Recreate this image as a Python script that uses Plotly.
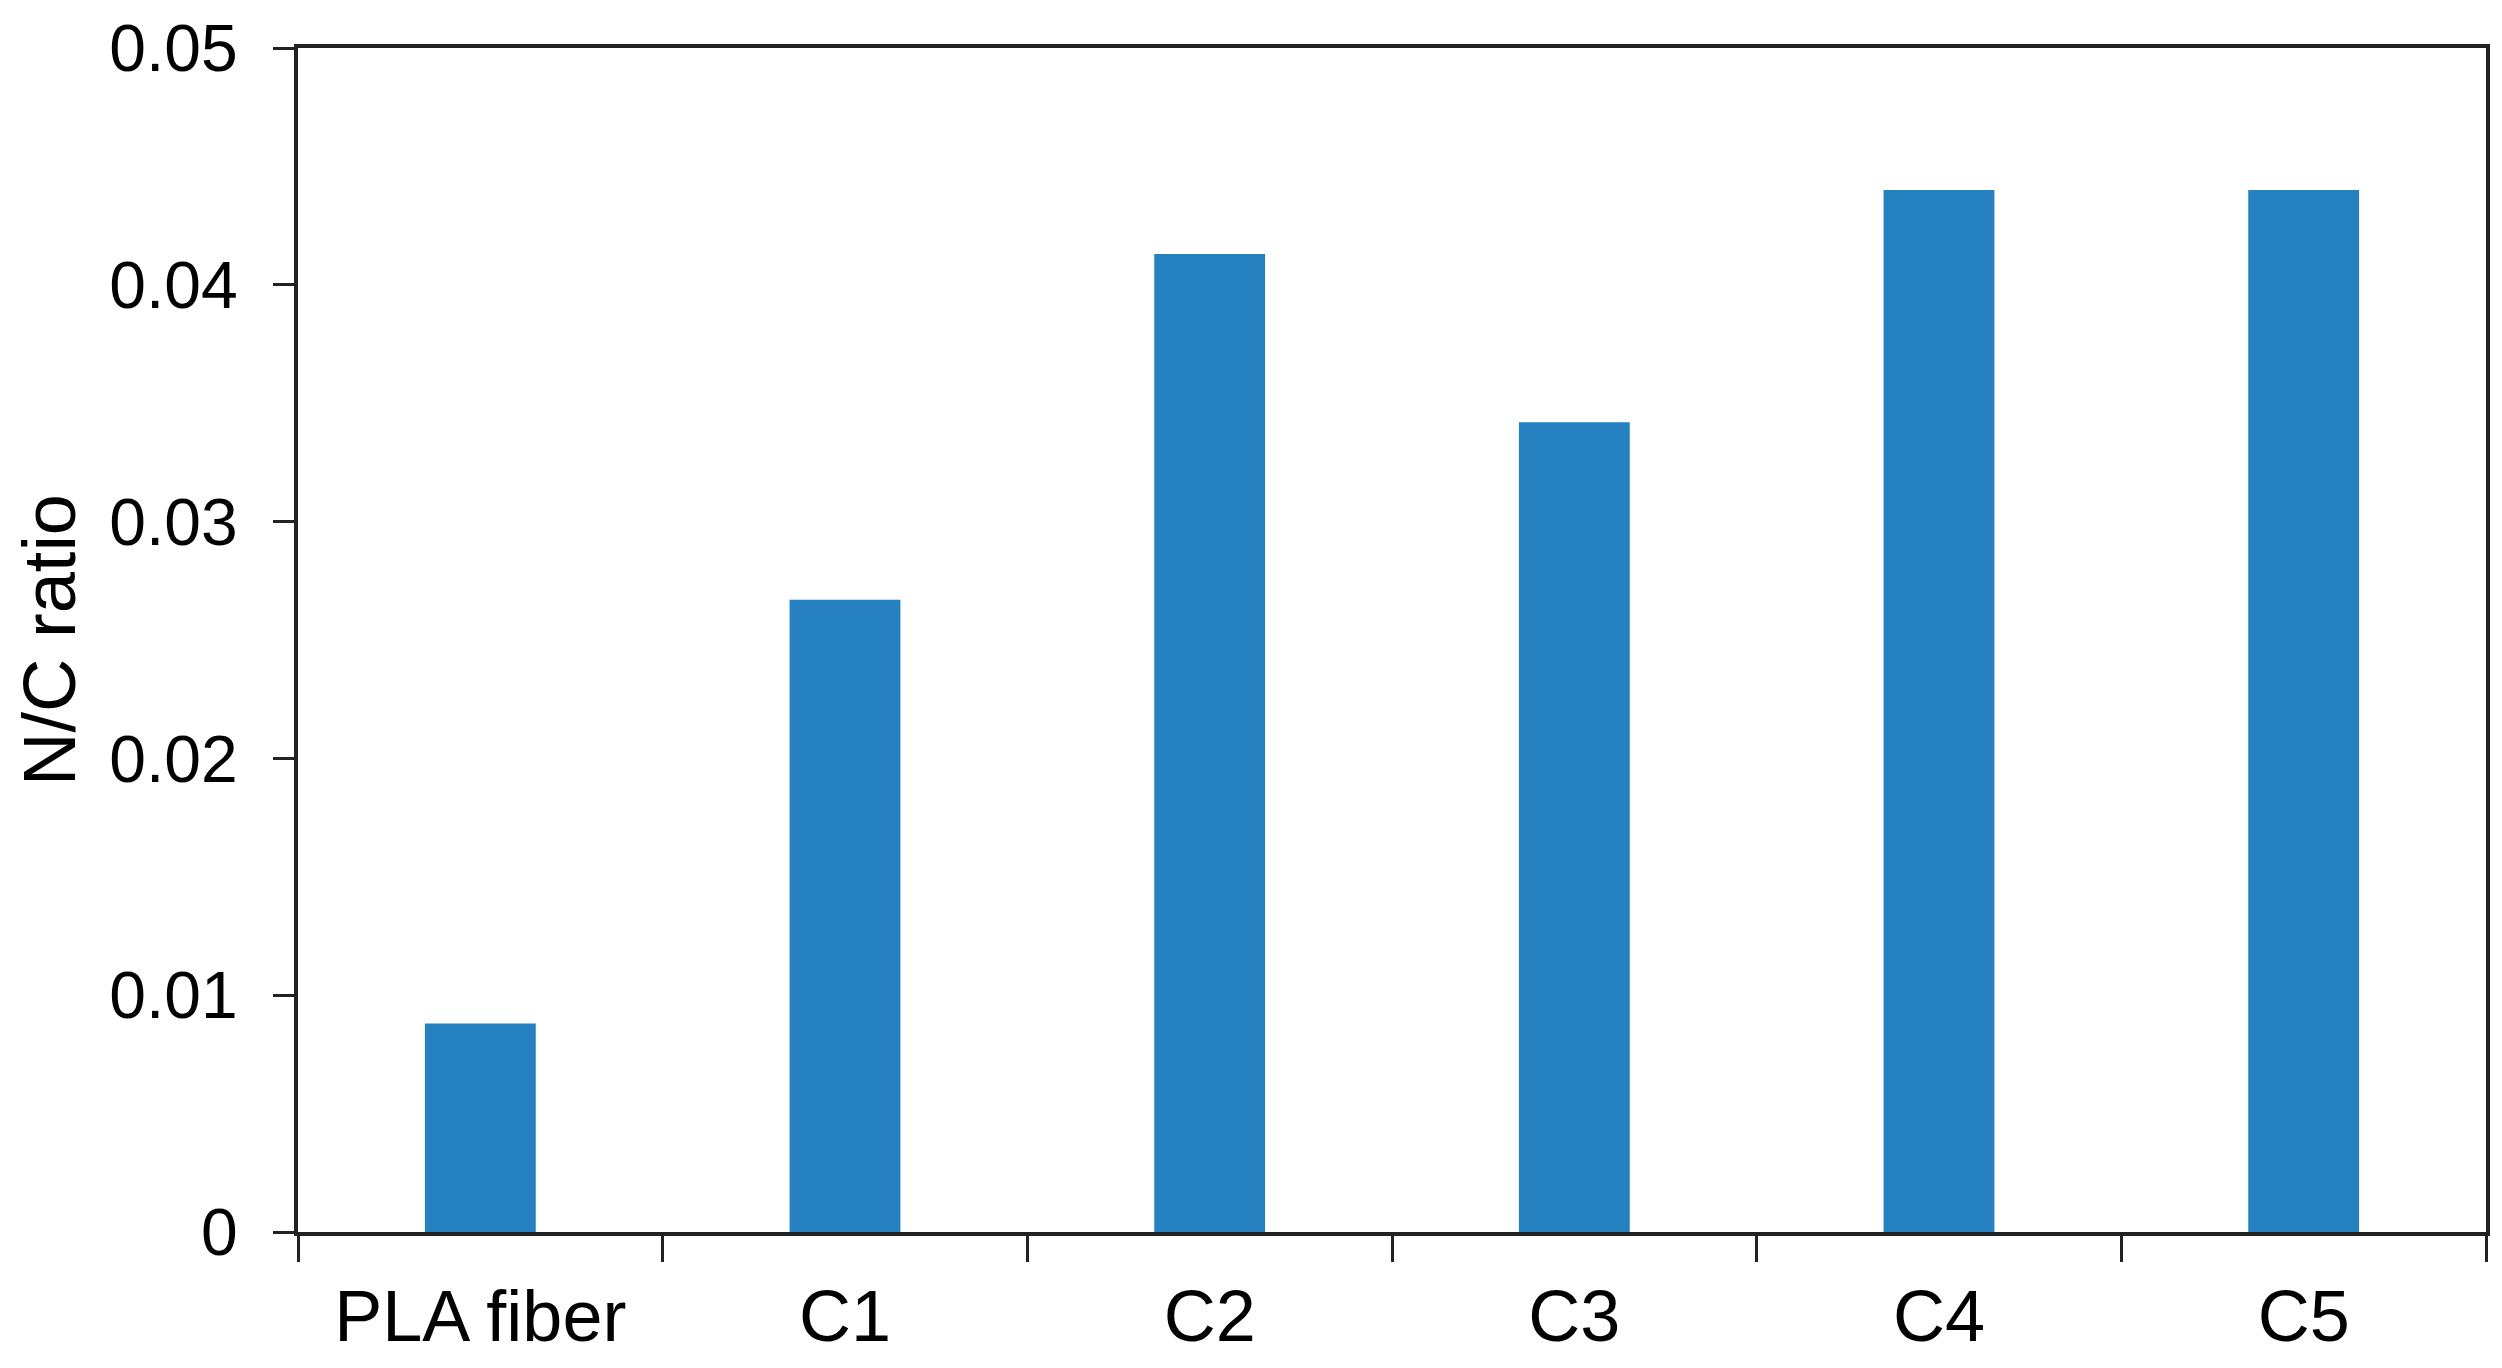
import plotly.graph_objects as go

categories = ["PLA fiber", "C1", "C2", "C3", "C4", "C5"]
nc_ratio = [0.0088, 0.0267, 0.0413, 0.0342, 0.0440, 0.0440]
y_tickvals = [0, 0.01, 0.02, 0.03, 0.04, 0.05]
y_ticktext = ["0", "0.01", "0.02", "0.03", "0.04", "0.05"]

FONT = "Liberation Sans, Arial, sans-serif"
AXIS_COLOR = "#222222"

fig = go.Figure()
fig.add_trace(go.Bar(
    x=categories,
    y=nc_ratio,
    width=0.304,
    marker=dict(color="#2581C0", line=dict(width=0)),
    showlegend=False,
))

# page body has an 8px default margin; figure sized so it fits the 2502x1368 window
fig.update_layout(
    width=2486,
    height=1352,
    margin=dict(l=290, r=8, t=40, b=128, autoexpand=False),
    paper_bgcolor="white",
    plot_bgcolor="white",
    font=dict(family=FONT, color="black"),
)

fig.update_xaxes(
    type="category",
    range=[-0.5, 5.5],
    showline=True,
    linecolor=AXIS_COLOR,
    linewidth=4,
    mirror=True,
    ticks="outside",
    tickson="boundaries",
    ticklen=26,
    tickwidth=2.5,
    tickcolor=AXIS_COLOR,
    tickfont=dict(family=FONT, size=72, color="black"),
    ticklabelstandoff=19,
    showgrid=False,
    zeroline=False,
)

fig.update_yaxes(
    range=[0, 0.05],
    tickvals=y_tickvals,
    ticktext=y_ticktext,
    showline=True,
    linecolor=AXIS_COLOR,
    linewidth=4,
    mirror=True,
    ticks="outside",
    ticklen=21,
    tickwidth=2.5,
    tickcolor=AXIS_COLOR,
    tickfont=dict(family=FONT, size=66, color="black"),
    ticklabelstandoff=22,
    showgrid=False,
    zeroline=False,
    title=dict(text="N/C ratio", font=dict(family=FONT, size=74, color="black"), standoff=41),
)

fig.write_html("out.html")
